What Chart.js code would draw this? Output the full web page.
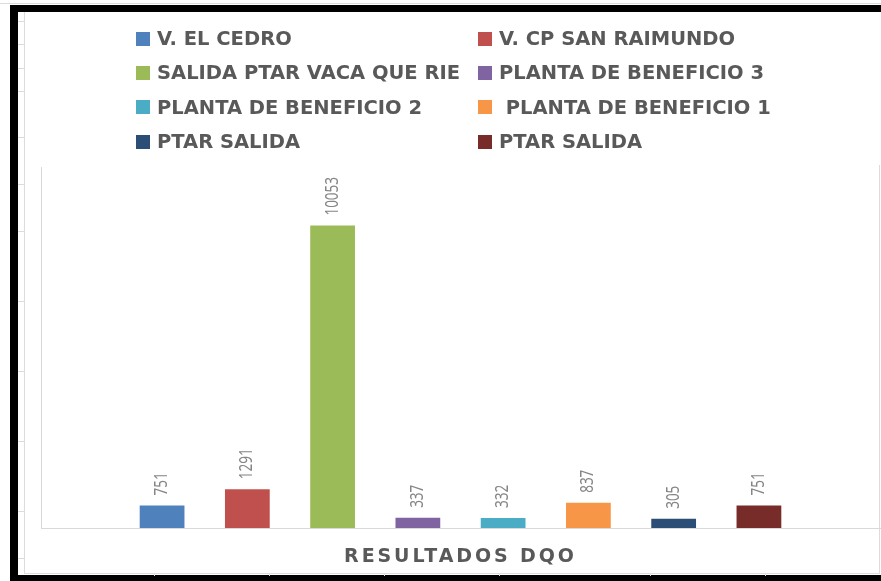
<!DOCTYPE html>
<html>
<head>
<meta charset="utf-8">
<title>Resultados DQO</title>
<script src="https://cdn.jsdelivr.net/npm/chart.js@4.4.0/dist/chart.umd.min.js"></script>
<style>
    body { margin: 0; background: #fff; }
    #page { position: relative; width: 881px; height: 581px; overflow: hidden; background: #fff; }
    .frame { position: absolute; background: #000; }
    .gridline { position: absolute; background: #dcdcdc; }
    #chartCanvas { position: absolute; left: 0; top: 0; }
    #legend {
        position: absolute; left: 136px; top: 21.5px;
        display: grid; grid-template-columns: 342px 370px; grid-auto-rows: 34.3px;
        font: bold 19.5px "DejaVu Sans"; color: #595959;
    }
    .lg-item { display: flex; align-items: center; white-space: pre; }
    .lg-box { width: 14px; height: 14px; margin-right: 7px; flex: none; }
</style>
</head>
<body>
<div id="page">
    <!-- spreadsheet bits around the chart -->
    <div class="gridline" style="left:0;top:3px;width:881px;height:1px;"></div>
    <div class="frame" style="left:10px;top:5px;width:871px;height:7px;"></div>
    <div class="frame" style="left:10px;top:5px;width:8px;height:576px;"></div>
    <div class="frame" style="left:10px;top:575px;width:871px;height:6px;"></div>
    <div id="rowTicks"></div>
    <div id="colTicks"></div>
    <!-- chart border -->
    <div class="gridline" style="left:24px;top:12px;width:1px;height:562px;"></div>
    <div class="gridline" style="left:24px;top:573px;width:856px;height:1px;"></div>
    <div class="gridline" style="left:879px;top:165px;width:1px;height:409px;"></div>

    <canvas id="chartCanvas" width="881" height="581"></canvas>
    <div id="legend"></div>
</div>

<script>
// Chart data
const categories = ['RESULTADOS DQO'];
const seriesNames = [
    'V. EL CEDRO',
    'V. CP SAN RAIMUNDO',
    'SALIDA PTAR VACA QUE RIE',
    'PLANTA DE BENEFICIO 3',
    'PLANTA DE BENEFICIO 2',
    ' PLANTA DE BENEFICIO 1',
    'PTAR SALIDA',
    'PTAR SALIDA'
];
const seriesValues = [751, 1291, 10053, 337, 332, 837, 305, 751];
const seriesColors = ['#4F81BD', '#C0504D', '#9BBB59', '#8064A2', '#4BACC6', '#F79646', '#2C4D75', '#772C2A'];

// spreadsheet cell lines peeking out at the left and bottom
const rowTickY = [21, 44, 68, 91, 137, 184, 231, 301, 371, 441, 511, 558];
const colTickX = [154, 269, 384, 499, 650, 765];
document.getElementById('rowTicks').innerHTML = rowTickY.map(y =>
    `<div class="gridline" style="left:18px;top:${y}px;width:6px;height:1px;"></div>`).join('');
document.getElementById('colTicks').innerHTML = colTickX.map(x =>
    `<div class="gridline" style="left:${x}px;top:574px;width:1px;height:2px;"></div>`).join('');

// Rotated value labels above each bar
const barLabels = {
    id: 'barLabels',
    beforeDraw(chart) {
        chart.ctx.letterSpacing = '2.9px';
    },
    afterDatasetsDraw(chart) {
        const ctx = chart.ctx;
        ctx.save();
        ctx.letterSpacing = '0px';
        ctx.font = '13.5px "Noto Sans"';
        ctx.fillStyle = '#858585';
        ctx.textAlign = 'left';
        ctx.textBaseline = 'middle';
        chart.data.datasets.forEach((ds, i) => {
            const bar = chart.getDatasetMeta(i).data[0];
            if (!bar) return;
            ctx.save();
            ctx.translate(bar.x, bar.y - 10);
            ctx.scale(1.3, 1);
            ctx.rotate(-Math.PI / 2);
            ctx.fillText(String(ds.data[0]), 0, 0);
            ctx.restore();
        });
        ctx.restore();
    },
    afterDraw(chart) {
        chart.ctx.letterSpacing = '0px';
    }
};

// Two-column legend, built from the chart's datasets
const htmlLegend = {
    id: 'htmlLegend',
    afterUpdate(chart) {
        const box = document.getElementById('legend');
        box.innerHTML = chart.data.datasets.map(ds =>
            `<div class="lg-item"><span class="lg-box" style="background:${ds.backgroundColor}"></span>${ds.label}</div>`
        ).join('');
    }
};

const ctx = document.getElementById('chartCanvas').getContext('2d');
const dqoChart = new Chart(ctx, {
    type: 'bar',
    data: {
        labels: categories,
        datasets: seriesNames.map((name, i) => ({
            label: name,
            data: [seriesValues[i]],
            backgroundColor: seriesColors[i],
            borderWidth: 0,
            categoryPercentage: 0.813,
            barPercentage: 0.525
        }))
    },
    options: {
        responsive: false,
        devicePixelRatio: 1,
        animation: false,
        layout: { padding: { left: 41, right: 1, top: 167, bottom: 8 } },
        plugins: {
            legend: { display: false },
            tooltip: { enabled: false }
        },
        scales: {
            x: {
                grid: { display: false, drawTicks: false },
                border: { display: true, color: '#d9d9d9', width: 1 },
                ticks: {
                    color: '#595959',
                    padding: 18,
                    font: { family: 'DejaVu Sans', size: 19, weight: 'bold' }
                },
                afterFit(scale) { scale.height = 45; }
            },
            y: {
                min: 0,
                max: 12000,
                grid: { display: false, drawTicks: false },
                border: { display: true, color: '#d9d9d9', width: 1 },
                ticks: { display: false },
                afterFit(scale) { scale.width = 0; }
            }
        }
    },
    plugins: [barLabels, htmlLegend]
});
</script>
</body>
</html>
